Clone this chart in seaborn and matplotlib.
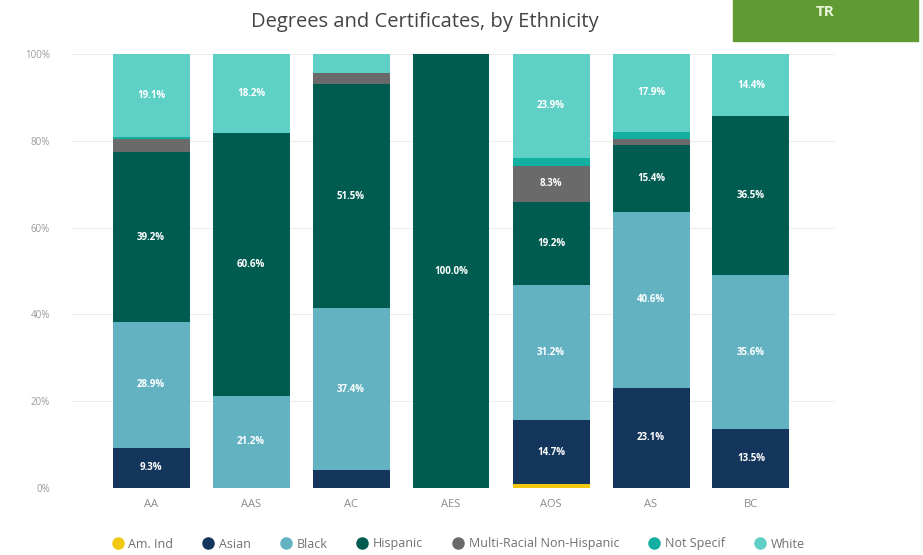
import matplotlib
matplotlib.use("Agg")
import matplotlib.pyplot as plt
from matplotlib.patches import Rectangle
from matplotlib.lines import Line2D
import seaborn as sns
import numpy as np

sns.set_theme(style="white")
plt.rcParams["font.family"] = ["Open Sans", "DejaVu Sans"]

categories = ["AA", "AAS", "AC", "AES", "AOS", "AS", "BC"]
ethnicities = ["Am. Ind", "Asian", "Black", "Hispanic",
               "Multi-Racial Non-Hispanic", "Not Specif", "White"]

am_ind = [0.0, 0.0, 0.0, 0.0, 0.9, 0.0, 0.0]
asian = [9.3, 0.0, 4.1, 0.0, 14.7, 23.1, 13.5]
black = [28.9, 21.2, 37.4, 0.0, 31.2, 40.6, 35.6]
hispanic = [39.2, 60.6, 51.5, 100.0, 19.2, 15.4, 36.5]
multi_racial = [2.9, 0.0, 2.6, 0.0, 8.3, 1.2, 0.0]
not_specified = [0.5, 0.0, 0.0, 0.0, 1.8, 1.8, 0.0]
white = [19.1, 18.2, 4.4, 0.0, 23.9, 17.9, 14.4]

series = [am_ind, asian, black, hispanic, multi_racial, not_specified, white]
colors = ["#F2C80F", "#14365C", "#62B2C2", "#005C50",
          "#6A6A6A", "#13AFA0", "#5FD0C6"]

fig = plt.figure(figsize=(9.23, 5.55), dpi=100)
ax = fig.add_axes([72 / 923, 1 - 488 / 555, (835 - 72) / 923, (488 - 54) / 555])

bottom = np.zeros(len(categories))
for vals, col in zip(series, colors):
    vals = np.array(vals)
    sns.barplot(x=categories, y=vals, bottom=bottom, color=col,
                width=0.77, ax=ax, saturation=1, linewidth=0)
    for i, v in enumerate(vals):
        if v >= 5:
            ax.text(i, bottom[i] + v / 2, f"{v:.1f}%", ha="center",
                    va="center", color="white", fontsize=7,
                    fontweight="bold")
    bottom = bottom + vals

ax.set_ylim(0, 100)
ax.set_xlim(-0.79, 6.84)
ax.set_yticks(range(0, 101, 20))
ax.set_yticklabels([f"{t}%" for t in range(0, 101, 20)],
                   color="#9A9A9A", fontsize=7)
ax.tick_params(axis="x", colors="#8A8A8A", labelsize=8, length=0, pad=8)
ax.tick_params(axis="y", length=0, pad=16)
ax.grid(axis="y", color="#EDEDED", linewidth=0.8)
ax.set_axisbelow(True)
for s in ax.spines.values():
    s.set_visible(False)
ax.set_xlabel("")
ax.set_ylabel("")

fig.text(425 / 923, 1 - 22 / 555, "Degrees and Certificates, by Ethnicity",
         ha="center", va="center", fontsize=14.5, color="#444444")

fig.patches.append(Rectangle((733 / 923, 1 - 41 / 555), 185 / 923, 41 / 555,
                             transform=fig.transFigure, color="#5F9A33",
                             zorder=0))
fig.text(825 / 923, 1 - 12 / 555, "TR", ha="center", va="center",
         fontsize=11, fontweight="bold", color="#EAF5D8")

handles = [Line2D([0], [0], marker="o", linestyle="", markersize=8,
                  markerfacecolor=c, markeredgecolor=c) for c in colors]
fig.legend(handles, ethnicities, loc="center", ncol=len(ethnicities),
           bbox_to_anchor=(458 / 923, 1 - 544 / 555), frameon=False,
           fontsize=9, labelcolor="#707070", handletextpad=0.35,
           columnspacing=2.3, handlelength=1.0)

fig.savefig("out.png", dpi=100)
